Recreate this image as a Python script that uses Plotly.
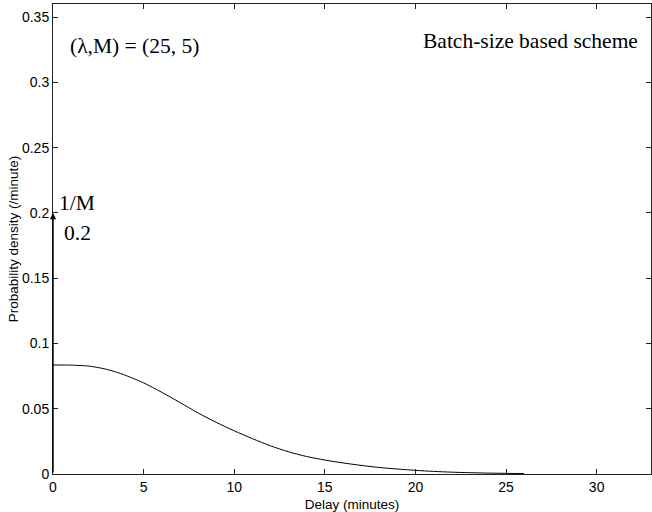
import plotly.graph_objects as go

# Delay (minutes) and probability density (/minute)
delay_min = [0, 1, 1.5, 2, 2.5, 3, 3.5, 4, 5, 6, 7, 8, 9, 10, 11, 12, 13, 14,
             15, 16, 17, 18, 19, 20, 21, 22, 23, 24, 25, 26]
density = [0.0835, 0.0834, 0.0831, 0.0826, 0.0815, 0.0800, 0.0780, 0.0756,
           0.0698, 0.0626, 0.0548, 0.0468, 0.0396, 0.0331, 0.0271, 0.0216,
           0.0170, 0.0134, 0.0107, 0.0085, 0.0066, 0.0050, 0.0038, 0.0028,
           0.0020, 0.0014, 0.0010, 0.0007, 0.0005, 0.0003]

# Delta (impulse) at zero delay with weight 1/M
impulse_x = 0
impulse_weight = 0.2

x_ticks = [0, 5, 10, 15, 20, 25, 30]
x_tick_labels = ["0", "5", "10", "15", "20", "25", "30"]
y_ticks = [0, 0.05, 0.1, 0.15, 0.2, 0.25, 0.3, 0.35]
y_tick_labels = ["0", "0.05", "0.1", "0.15", "0.2", "0.25", "0.3", "0.35"]

fig = go.Figure()
fig.add_trace(go.Scatter(
    x=delay_min, y=density, mode="lines",
    line=dict(color="black", width=1, shape="spline", smoothing=0.8),
    showlegend=False, hoverinfo="skip",
))

serif = "Liberation Serif, Times New Roman, serif"
tsize = 21.5

# impulse arrow
fig.add_annotation(
    x=impulse_x, y=impulse_weight, ax=impulse_x, ay=0,
    xref="x", yref="y", axref="x", ayref="y",
    showarrow=True, arrowhead=2, arrowsize=0.9, arrowwidth=1.4,
    arrowcolor="black", text="",
)
fig.add_annotation(x=0.2, y=0.2076, xref="x", yref="y", text="1/M",
                   showarrow=False, xanchor="left", yanchor="middle",
                   font=dict(family=serif, size=tsize, color="black"))
fig.add_annotation(x=0.5, y=0.1846, xref="x", yref="y", text="0.2",
                   showarrow=False, xanchor="left", yanchor="middle",
                   font=dict(family=serif, size=tsize, color="black"))
fig.add_annotation(x=0.83, y=0.3276, xref="x", yref="y",
                   text="(\u03bb,M) = (25, 5)",
                   showarrow=False, xanchor="left", yanchor="middle",
                   font=dict(family=serif, size=tsize, color="black"))
fig.add_annotation(x=32.4, y=0.3315, xref="x", yref="y",
                   text="Batch-size based scheme",
                   showarrow=False, xanchor="right", yanchor="middle",
                   font=dict(family=serif, size=tsize, color="black"))

sans = "Liberation Sans, Arial, Helvetica, sans-serif"
axis_common = dict(
    showgrid=False, showline=True, linecolor="#222", linewidth=1,
    mirror="ticks", ticks="inside", ticklen=5, tickwidth=1, tickcolor="#222",
    tickfont=dict(family=sans, size=14, color="black"),
)

fig.update_xaxes(
    range=[0, 33], tickvals=x_ticks, ticktext=x_tick_labels,
    zeroline=False,
    title=dict(text="Delay (minutes)", font=dict(family=sans, size=13.5, color="black"),
               standoff=5),
    **axis_common,
)
fig.update_yaxes(
    range=[0, 0.36], tickvals=y_ticks, ticktext=y_tick_labels,
    zeroline=True, zerolinecolor="black", zerolinewidth=1.5,
    title=dict(text="Probability density (/minute)",
               font=dict(family=sans, size=13.5, color="black"), standoff=0),
    **axis_common,
)

fig.update_layout(
    width=652, height=512,
    margin=dict(l=53, r=1, t=4, b=38, autoexpand=False),
    plot_bgcolor="white", paper_bgcolor="white",
)

fig.write_html("out.html")
